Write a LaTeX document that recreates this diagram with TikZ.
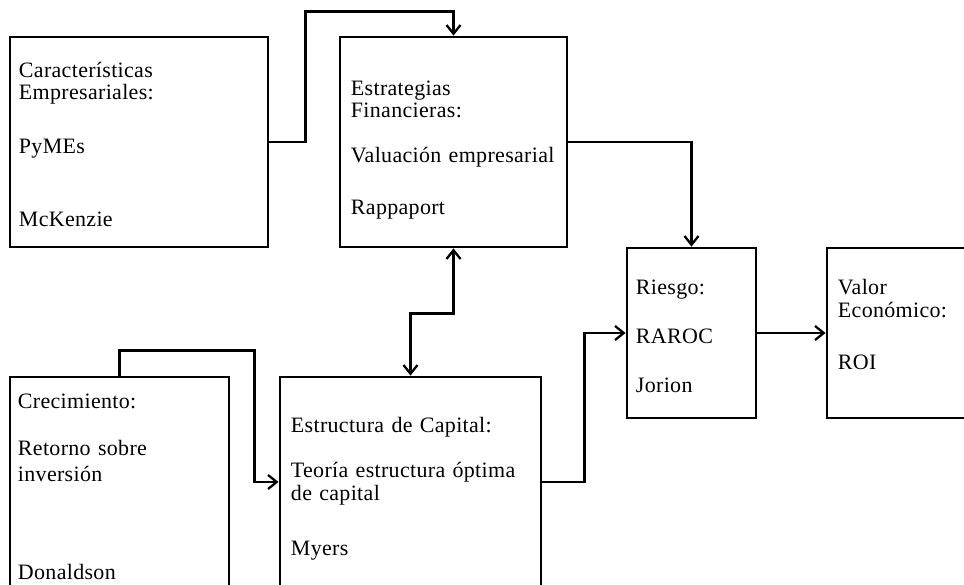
\documentclass[tikz,border=0pt]{standalone}
\usepackage{fontspec}
\setmainfont{Liberation Serif}[LetterSpace=1.5]
\usepackage{tikz}
\usetikzlibrary{arrows.meta}

\begin{document}
\begin{tikzpicture}[
  >={Straight Barb[length=5pt,width=8pt]},
  bloque/.style={
    draw,
    line width=1.6pt,
    inner sep=0pt
  },
  texto/.style={
    anchor=base west,
    align=left,
    inner sep=0pt,
    text width=5cm,
    font=\fontsize{12.5}{12.8}\selectfont
  },
  conector/.style={->, line width=1.3pt},
  dobleconector/.style={<->, line width=1.3pt}
]
  \useasboundingbox (0,0) rectangle (19.28,11.68);

  \node[bloque, minimum width=5.16cm, minimum height=4.2cm] (carac) at (2.78,8.84) {};
  \node[bloque, minimum width=4.54cm, minimum height=4.2cm] (estrat) at (9.07,8.84) {};
  \node[bloque, minimum width=2.58cm, minimum height=3.4cm] (riesgo) at (13.83,5.02) {};
  \node[bloque, minimum width=4cm, minimum height=3.4cm] (valor) at (18.54,5.02) {};
  \node[bloque, minimum width=5.22cm, minimum height=4.2cm] (estruc) at (8.21,2.04) {};
  \node[bloque, minimum width=4.38cm, minimum height=4.2cm] (crec) at (2.39,2.04) {};

  \node[texto] (caractxt) at ([shift={(0.2,-0.83)}]carac.north west)
    {Características\\ Empresariales:\\[0.62cm]
     PyMEs\\[1.02cm]
     McKenzie};
  \node[texto] (estrattxt) at ([shift={(0.24,-1.19)}]estrat.north west)
    {Estrategias\\ Financieras:\\[0.45cm]
     Valuación empresarial\\[0.58cm]
     Rappaport};
  \node[texto] (riesgotxt) at ([shift={(0.2,-0.95)}]riesgo.north west)
    {Riesgo:\\[0.53cm]
     RAROC\\[0.53cm]
     Jorion};
  \node[texto] (valortxt) at ([shift={(0.24,-0.96)}]valor.north west)
    {Valor\\ Económico:\\[0.59cm]
     ROI};
  \node[texto] (estructxt) at ([shift={(0.24,-1.14)}]estruc.north west)
    {Estructura de Capital:\\[0.45cm]
     Teoría estructura óptima\\ de capital\\[0.65cm]
     Myers};
  \node[texto] (crectxt) at ([shift={(0.18,-0.65)}]crec.north west)
    {Crecimiento:\\[0.49cm]
     Retorno sobre\\[0.08cm] inversión\\[1.51cm]
     Donaldson};

  \draw[conector] (carac.east) -- ++(0.72,0) |- ([yshift=0.48cm]estrat.north) -- (estrat.north);
  \draw[conector] (estrat.east) -| (riesgo.north);
  \draw[dobleconector] (estrat.south) -- ++(0,-1.3) -| (estruc.north);
  \draw[conector] (crec.north) -- ++(0,0.5) -| ([xshift=-0.48cm]estruc.west) -- (estruc.west);
  \draw[conector] (estruc.east) -- ++(0.84,0) |- (riesgo.west);
  \draw[conector] (riesgo.east) -- (valor.west);
\end{tikzpicture}
\end{document}
